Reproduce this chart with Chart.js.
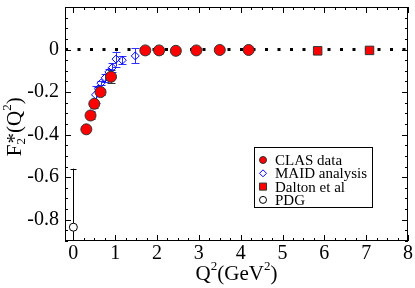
<!DOCTYPE html>
<html>
<head>
  <title>F2* vs Q2</title>
  <script src="https://cdn.jsdelivr.net/npm/chart.js"></script>
  <style>
    html, body { margin: 0; padding: 0; background: #fff; }
    #wrap { width: 415px; height: 288px; }
  </style>
</head>
<body>
  <div id="wrap"><canvas id="chart" width="415" height="288"></canvas></div>

<script>
  // CLAS data
  const clasQ2 = [0.31, 0.41, 0.5, 0.65, 0.9, 1.72, 2.05, 2.45, 2.94, 3.5, 4.19];
  const clasF2 = [-0.375, -0.31, -0.255, -0.2, -0.128, -0.004, -0.004, -0.006, -0.004, -0.002, -0.002];
  const clasErr = [0.012, 0.018, 0.02, 0.015, 0.03, 0.015, 0.015, 0.015, 0.012, 0.01, 0.01];

  // MAID analysis
  const maidQ2 = [0.41, 0.53, 0.6, 0.66, 0.76, 0.85, 0.93, 1.02, 1.17, 1.48];
  const maidF2 = [-0.302, -0.213, -0.185, -0.158, -0.133, -0.105, -0.085, -0.045, -0.05, -0.03];
  const maidErr = [0.015, 0.04, 0.01, 0.01, 0.02, 0.015, 0.02, 0.035, 0.02, 0.035];

  // Dalton et al
  const daltonQ2 = [5.84, 7.08];
  const daltonF2 = [-0.006, -0.004];
  const daltonErr = [0.004, 0.004];

  // PDG
  const pdgQ2 = [0];
  const pdgF2 = [-0.835];
  const pdgErr = [0.275];

  const xTicks = [0, 1, 2, 3, 4, 5, 6, 7, 8];
  const yTicks = [0, -0.2, -0.4, -0.6, -0.8];

  const serif = "'Liberation Serif', 'DejaVu Serif', serif";

  function pts(xs, ys, es) {
    return xs.map((x, i) => ({ x: x, y: ys[i], e: es[i] }));
  }

  // error bars, drawn under the points
  const errorBars = {
    id: 'errorBars',
    beforeDatasetsDraw(chart) {
      const ctx = chart.ctx;
      const xs = chart.scales.x, ys = chart.scales.y;
      const a = chart.chartArea;
      ctx.save();
      ctx.beginPath();
      ctx.rect(a.left, a.top, a.right - a.left, a.bottom - a.top);
      ctx.clip();
      chart.data.datasets.forEach(ds => {
        if (!ds.errColor) return;
        ctx.strokeStyle = ds.errColor;
        ctx.lineWidth = 1;
        ds.data.forEach(p => {
          const px = Math.round(xs.getPixelForValue(p.x)) + 0.5;
          const y1 = ys.getPixelForValue(p.y + p.e);
          const y2 = ys.getPixelForValue(p.y - p.e);
          const c = ds.capWidth;
          ctx.beginPath();
          ctx.moveTo(px, y1); ctx.lineTo(px, y2);
          ctx.moveTo(px - c, Math.round(y1) + 0.5); ctx.lineTo(px + c, Math.round(y1) + 0.5);
          ctx.moveTo(px - c, Math.round(y2) + 0.5); ctx.lineTo(px + c, Math.round(y2) + 0.5);
          ctx.stroke();
        });
      });
      ctx.restore();
    }
  };

  // frame with inner ticks on all four sides, titles and legend
  const frame = {
    id: 'frame',
    afterDraw(chart) {
      const ctx = chart.ctx;
      const xs = chart.scales.x, ys = chart.scales.y;
      const a = chart.chartArea;
      ctx.save();
      ctx.strokeStyle = '#000';
      ctx.lineWidth = 1;
      ctx.strokeRect(a.left + 0.5, a.top + 0.5, a.right - a.left - 1, a.bottom - a.top - 1);
      ctx.beginPath();
      for (let v = 0; v <= 8.001; v += 0.25) {
        const px = Math.round(xs.getPixelForValue(v)) + 0.5;
        const len = Math.abs(v - Math.round(v)) < 1e-6 ? 6 : 3;
        ctx.moveTo(px, a.bottom); ctx.lineTo(px, a.bottom - len);
        ctx.moveTo(px, a.top); ctx.lineTo(px, a.top + len);
      }
      for (let k = -18; k <= 4; k++) {
        const v = k * 0.05;
        const py = Math.round(ys.getPixelForValue(v)) + 0.5;
        const len = k % 4 === 0 ? 6 : 3;
        ctx.moveTo(a.left, py); ctx.lineTo(a.left + len, py);
        ctx.moveTo(a.right, py); ctx.lineTo(a.right - len, py);
      }
      ctx.stroke();

      // axis titles
      ctx.fillStyle = '#000';
      ctx.textBaseline = 'alphabetic';
      const cx = (a.left + a.right) / 2;
      const big = '21px ' + serif, small = '13px ' + serif;
      ctx.font = big;
      const wQ = ctx.measureText('Q').width;
      const wG = ctx.measureText('(GeV').width;
      const wP = ctx.measureText(')').width;
      ctx.font = small;
      const w2 = ctx.measureText('2').width;
      let x0 = cx - (wQ + w2 + wG + w2 + wP) / 2;
      const by = 280;
      ctx.font = big; ctx.fillText('Q', x0, by); x0 += wQ;
      ctx.font = small; ctx.fillText('2', x0, by - 10); x0 += w2;
      ctx.font = big; ctx.fillText('(GeV', x0, by); x0 += wG;
      ctx.font = small; ctx.fillText('2', x0, by - 10); x0 += w2;
      ctx.font = big; ctx.fillText(')', x0, by);

      ctx.save();
      ctx.translate(21, (a.top + a.bottom) / 2);
      ctx.rotate(-Math.PI / 2);
      ctx.font = big;
      const wF = ctx.measureText('F').width;
      const wS = ctx.measureText('*(Q').width;
      let y0 = -(wF + w2 + wS + w2 + wP) / 2;
      ctx.fillText('F', y0, 0); y0 += wF;
      ctx.font = small; ctx.fillText('2', y0, 4);
      ctx.font = big; ctx.fillText('*(Q', y0 + 1, 0); y0 += wS + 1;
      ctx.font = small; ctx.fillText('2', y0, -10); y0 += w2;
      ctx.font = big; ctx.fillText(')', y0, 0);
      ctx.restore();

      // legend box
      const lx = 254, ly = 147, lw = 118, lh = 60;
      ctx.fillStyle = '#fff';
      ctx.fillRect(lx, ly, lw, lh);
      ctx.strokeStyle = '#000';
      ctx.strokeRect(lx + 0.5, ly + 0.5, lw, lh);
      ctx.font = '15px ' + serif;
      ctx.textBaseline = 'middle';
      const entries = chart.data.datasets.filter(d => d.inLegend);
      entries.forEach((d, i) => {
        const ry = ly + 13 + i * 13.3;
        ctx.save();
        ctx.fillStyle = d.backgroundColor;
        ctx.strokeStyle = d.borderColor;
        ctx.lineWidth = 1;
        Chart.helpers.drawPoint(ctx, { pointStyle: d.pointStyle, radius: d.legendRadius, rotation: 0, borderWidth: 1 }, lx + 9, ry);
        ctx.restore();
        ctx.fillStyle = '#000';
        ctx.fillText(d.label, lx + 21, ry + 1);
      });
      ctx.restore();
    }
  };

  function noPad(s) {
    s.paddingTop = 0; s.paddingBottom = 0; s.paddingLeft = 0; s.paddingRight = 0;
  }

  new Chart(document.getElementById('chart'), {
    type: 'scatter',
    data: {
      datasets: [
        {
          label: 'zero',
          type: 'line',
          data: [{ x: -0.2, y: 0 }, { x: 8, y: 0 }],
          borderColor: '#000',
          borderWidth: 3,
          borderDash: [3, 9.5],
          pointRadius: 0,
          order: 10
        },
        {
          label: 'CLAS data',
          data: pts(clasQ2, clasF2, clasErr),
          pointStyle: 'circle',
          pointRadius: 5.5,
          backgroundColor: '#ff0000',
          borderColor: '#333',
          borderWidth: 1,
          errColor: '#333',
          capWidth: 4,
          inLegend: true,
          legendRadius: 3.5
        },
        {
          label: 'MAID analysis',
          data: pts(maidQ2, maidF2, maidErr),
          pointStyle: 'rectRot',
          pointRadius: 4,
          backgroundColor: 'rgba(255,255,255,0)',
          borderColor: '#0000ff',
          borderWidth: 1,
          errColor: '#3030ff',
          capWidth: 4,
          inLegend: true,
          legendRadius: 3.5
        },
        {
          label: 'Dalton et al',
          data: pts(daltonQ2, daltonF2, daltonErr),
          pointStyle: 'rect',
          pointRadius: 6,
          backgroundColor: '#ff0000',
          borderColor: '#333',
          borderWidth: 1,
          errColor: '#333',
          capWidth: 3,
          inLegend: true,
          legendRadius: 5
        },
        {
          label: 'PDG',
          data: pts(pdgQ2, pdgF2, pdgErr),
          pointStyle: 'circle',
          pointRadius: 4,
          backgroundColor: '#fff',
          borderColor: '#000',
          borderWidth: 1,
          errColor: '#000',
          capWidth: 3,
          inLegend: true,
          legendRadius: 3.5
        }
      ]
    },
    options: {
      responsive: false,
      animation: false,
      layout: { padding: { top: 2, right: 5, left: 0, bottom: 0 } },
      plugins: {
        legend: { display: false },
        tooltip: { enabled: false }
      },
      scales: {
        x: {
          type: 'linear',
          min: -0.2,
          max: 8,
          afterFit: s => { s.height = 47; noPad(s); },
          afterBuildTicks: s => { s.ticks = xTicks.map(v => ({ value: v })); },
          grid: { display: false, drawTicks: false },
          border: { display: false },
          ticks: {
            color: '#000',
            padding: 1,
            font: { family: serif, size: 20 },
            maxRotation: 0,
            autoSkip: false,
            callback: v => String(v)
          }
        },
        y: {
          type: 'linear',
          min: -0.9,
          max: 0.2,
          afterFit: s => { s.width = 65; noPad(s); },
          afterBuildTicks: s => { s.ticks = yTicks.map(v => ({ value: v })); },
          grid: { display: false, drawTicks: false },
          border: { display: false },
          ticks: {
            color: '#000',
            padding: 6,
            font: { family: serif, size: 20 },
            autoSkip: false,
            callback: v => (v === 0 ? '0' : String(Math.round(v * 10) / 10))
          }
        }
      }
    },
    plugins: [errorBars, frame]
  });
</script>
</body>
</html>
